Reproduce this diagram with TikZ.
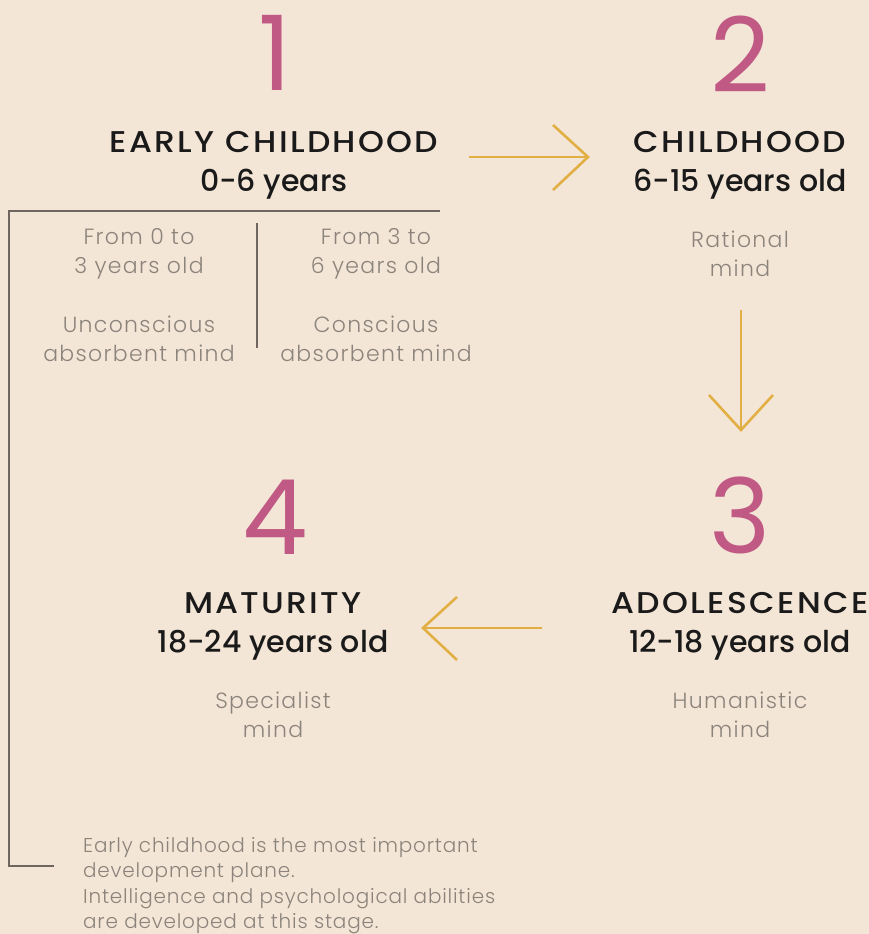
\documentclass[tikz,border=0pt]{standalone}
\usepackage{fontspec}
\usepackage{graphicx}
\setmainfont{Poppins}
\newfontfamily\lightf[LetterSpace=6]{Poppins Light}
\newfontfamily\footf[LetterSpace=4]{Poppins Light}
\newfontfamily\capf[LetterSpace=7]{Poppins Medium}
\newfontfamily\medf{Poppins Medium}
\usetikzlibrary{positioning}
\definecolor{bg}{HTML}{F4E6D6}
\definecolor{pinkc}{HTML}{C05A85}
\definecolor{goldc}{HTML}{E2AF45}
\definecolor{greyt}{HTML}{8C847C}
\definecolor{linec}{HTML}{6E665F}
\definecolor{headc}{HTML}{1A1A1A}
\tikzset{
  numtxt/.style={text=pinkc, font=\fontsize{104}{104}\selectfont, inner sep=0pt},
  headtxt/.style={text=headc, font=\medf\fontsize{30}{39}\selectfont, align=center, inner sep=0pt},
  bodytxt/.style={text=greyt, font=\lightf\fontsize{22}{29}\selectfont, align=center, inner sep=0pt},
  foottxt/.style={text=greyt, font=\footf\fontsize{20}{25.4}\selectfont, align=left, inner sep=0pt, anchor=north west},
  arrowline/.style={draw=goldc, line width=2.6pt},
  frameline/.style={draw=linec, line width=1.2pt}
}
\newcommand{\capline}[1]{\scalebox{1.1}[1]{\capf #1}}
\begin{document}
\begin{tikzpicture}[x=1pt,y=-1pt]
\fill[bg] (0,0) rectangle (869,934);
\useasboundingbox (0,0) rectangle (869,934);
% numbers
\node[numtxt] (n1) at (275,53) {1};
\node[numtxt] (n2) at (740,54) {2};
\node[numtxt] (n3) at (740,515) {3};
\node[numtxt] (n4) at (275,517) {4};
% headings
\node[headtxt] (h1) at (274,165) {\capline{EARLY CHILDHOOD}\\0-6 years};
\node[headtxt] (h2) at (740,165) {\capline{CHILDHOOD}\\6-15 years old};
\node[headtxt] (h3) at (740,626) {\capline{ADOLESCENCE}\\12-18 years old};
\node[headtxt] (h4) at (273,626) {\capline{MATURITY}\\18-24 years old};
% body
\node[bodytxt] (b2) at (740,254) {Rational\\mind};
\node[bodytxt] (b3) at (740,715) {Humanistic\\mind};
\node[bodytxt] (b4) at (273,715) {Specialist\\mind};
\node[bodytxt] (e1) at (139,254) {From 0 to\\3 years old};
\node[bodytxt] (e2) at (139,339) {Unconscious\\absorbent mind};
\node[bodytxt] (e3) at (376,254) {From 3 to\\6 years old};
\node[bodytxt] (e4) at (376,339) {Conscious\\absorbent mind};
\node[foottxt] (ft) at (83,837) {Early childhood is the most important\\development plane.\\Intelligence and psychological abilities\\are developed at this stage.};
% arrows
\coordinate (a1s) at (469,157); \coordinate (a1e) at (588,157);
\draw[arrowline] (a1s) -- (a1e);
\draw[arrowline, line join=miter] (553,125) -- (a1e) -- (553,190);
\coordinate (a2s) at (741,310); \coordinate (a2e) at (741,430);
\draw[arrowline] (a2s) -- (a2e);
\draw[arrowline] (709,395) -- (a2e) -- (773,395);
\coordinate (a3s) at (542,628); \coordinate (a3e) at (423,628);
\draw[arrowline] (a3s) -- (a3e);
\draw[arrowline] (457,597) -- (a3e) -- (457,660);
% frame
\coordinate (f1) at (440,211); \coordinate (f2) at (9,211);
\coordinate (f3) at (9,866); \coordinate (f4) at (54,866);
\draw[frameline] (f1) -- (f2) -- (f3) -- (f4);
\coordinate (d1) at (257,223); \coordinate (d2) at (257,348);
\draw[frameline, line width=1.8pt] (d1) -- (d2);
\end{tikzpicture}
\end{document}
